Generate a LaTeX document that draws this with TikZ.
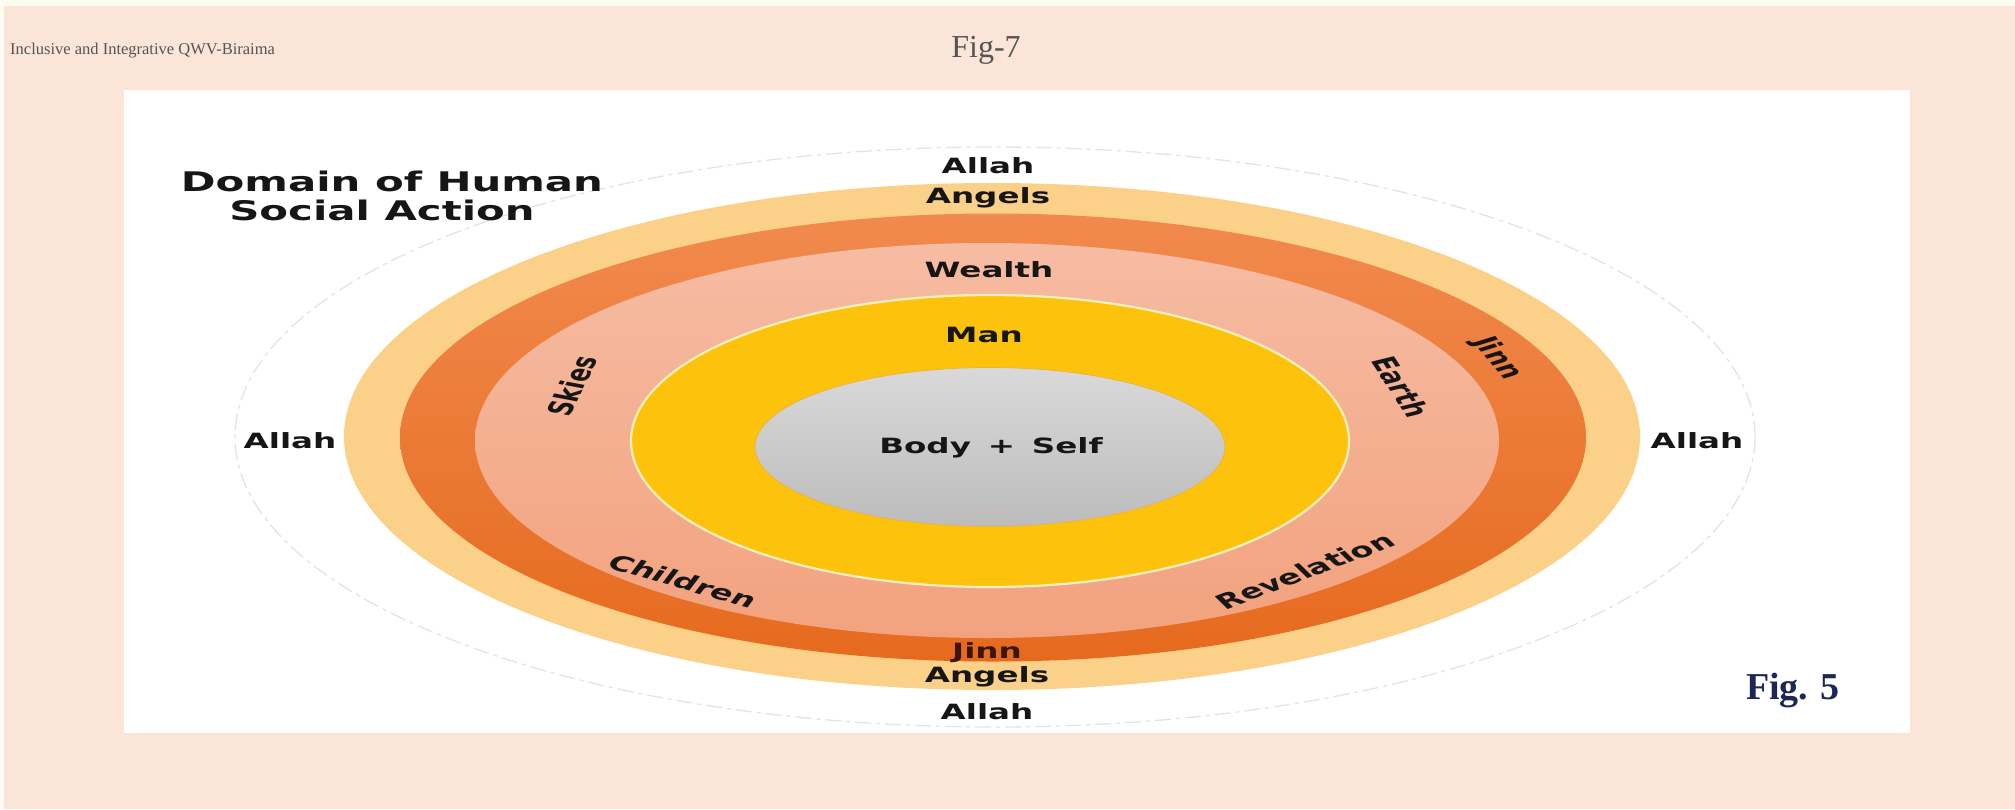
\documentclass[tikz,border=0pt]{standalone}
\usepackage{fontspec}
\setmainfont{Liberation Serif}
\newfontfamily\labelfont{DejaVu Sans Bold}[FakeStretch=1.55]
\newfontfamily\plainlabelfont{DejaVu Sans Bold}

\definecolor{pagebg}{HTML}{FAE5D8}
\definecolor{creamedge}{HTML}{FEFCF2}
\definecolor{headgray}{HTML}{555555}
\definecolor{navyfig}{HTML}{1C2757}
\definecolor{ringgray}{HTML}{E4E4E4}
\definecolor{angelring}{HTML}{FBD088}
\definecolor{jinntop}{HTML}{F18A4E}
\definecolor{jinnbot}{HTML}{E66A1E}
\definecolor{wealthtop}{HTML}{F6BCA3}
\definecolor{wealthbot}{HTML}{F2A27E}
\definecolor{manyellow}{HTML}{FDC20B}
\definecolor{manedge}{HTML}{FFF0C0}
\definecolor{coretop}{HTML}{D9D9D9}
\definecolor{corebot}{HTML}{BCBCBC}
\definecolor{coreedge}{HTML}{EDB43A}
\definecolor{labeltext}{HTML}{161616}
\definecolor{jinntext}{HTML}{3A150C}

% curved-band labels: turned first, then widened like the rest of the drawing
\newcommand{\bandtext}[2]{\scalebox{1.64}[1]{\rotatebox{#1}{#2}}}

\tikzset{
  lbl/.style={font=\labelfont\fontsize{21}{25}\selectfont, text=labeltext, inner sep=0pt},
  tilted/.style={font=\plainlabelfont\fontsize{20.5}{24}\selectfont, text=labeltext, inner sep=0pt},
  ttl/.style={font=\labelfont\fontsize{27}{32}\selectfont, text=labeltext, inner sep=0pt},
}

\begin{document}
\begin{tikzpicture}[x=1pt,y=-1pt]
\useasboundingbox (0,0) rectangle (2015,809);

% page and panel
\fill[pagebg] (0,0) rectangle (2015,809);
\fill[creamedge] (0,0) rectangle (2015,6);
\fill[creamedge] (0,0) rectangle (4,809);
\fill[white] (124,90) rectangle (1910,733);

% outer faint ring (Allah)
\draw[ringgray, line width=1.3pt, dash pattern=on 16pt off 5pt on 4pt off 5pt]
  (995,437) ellipse [x radius=760pt, y radius=290pt];

% nested rings
\fill[angelring] (992,436.5) ellipse [x radius=648pt, y radius=253.5pt];
\shade[top color=jinntop, bottom color=jinnbot]
  (993,437.5) ellipse [x radius=593pt, y radius=224pt];
\shade[top color=wealthtop, bottom color=wealthbot]
  (987,440.5) ellipse [x radius=512pt, y radius=197.5pt];
\filldraw[fill=manyellow, draw=manedge, line width=2.2pt]
  (990,441) ellipse [x radius=359pt, y radius=146pt];
\shade[top color=coretop, bottom color=corebot, draw=coreedge, line width=0.8pt]
  (990,447) ellipse [x radius=235pt, y radius=79.5pt];

% header
\node[font=\fontsize{16.5}{20}\selectfont, text=headgray, anchor=west, inner sep=0pt]
  (header) at (10,51) {Inclusive and Integrative QWV-Biraima};
\node[font=\fontsize{32}{38}\selectfont, text=headgray, inner sep=0pt]
  (figseven) at (986,50) {Fig-7};

% title
\node[ttl] (titleA) at (392,181) {Domain of Human};
\node[ttl] (titleB) at (382,210) {Social Action};

% ring labels
\node[lbl] (allahTop) at (988,166) {Allah};
\node[lbl] (angelsTop) at (988,198) {Angels};
\node[lbl] (wealth) at (989,270) {Wealth};
\node[lbl] (man) at (984,335) {Man};
\node[lbl] (bodyself) at (991,448) {Body\hspace{0.8em}+\hspace{0.8em}Self};
\node[lbl, text=jinntext] (jinnBottom) at (987,653) {Jinn};
\node[lbl] (angelsBottom) at (987,677) {Angels};
\node[lbl] (allahBottom) at (987,712) {Allah};
\node[lbl] (allahLeft) at (290,441) {Allah};
\node[lbl] (allahRight) at (1697,441) {Allah};

\node[tilted] (skies) at (572,386) {\bandtext{73}{Skies}};
\node[tilted] (earth) at (1401,387) {\bandtext{-68}{Earth}};
\node[tilted] (jinnRight) at (1497,358) {\bandtext{-63}{Jinn}};
\node[tilted] (children) at (683,581) {\bandtext{-25}{Children}};
\node[tilted] (revelation) at (1305,571) {\bandtext{32}{Revelation}};

% figure tag
\node[font=\bfseries\fontsize{38}{44}\selectfont, text=navyfig, inner sep=0pt]
  (figfive) at (1793,690) {Fig. 5};
\end{tikzpicture}
\end{document}
